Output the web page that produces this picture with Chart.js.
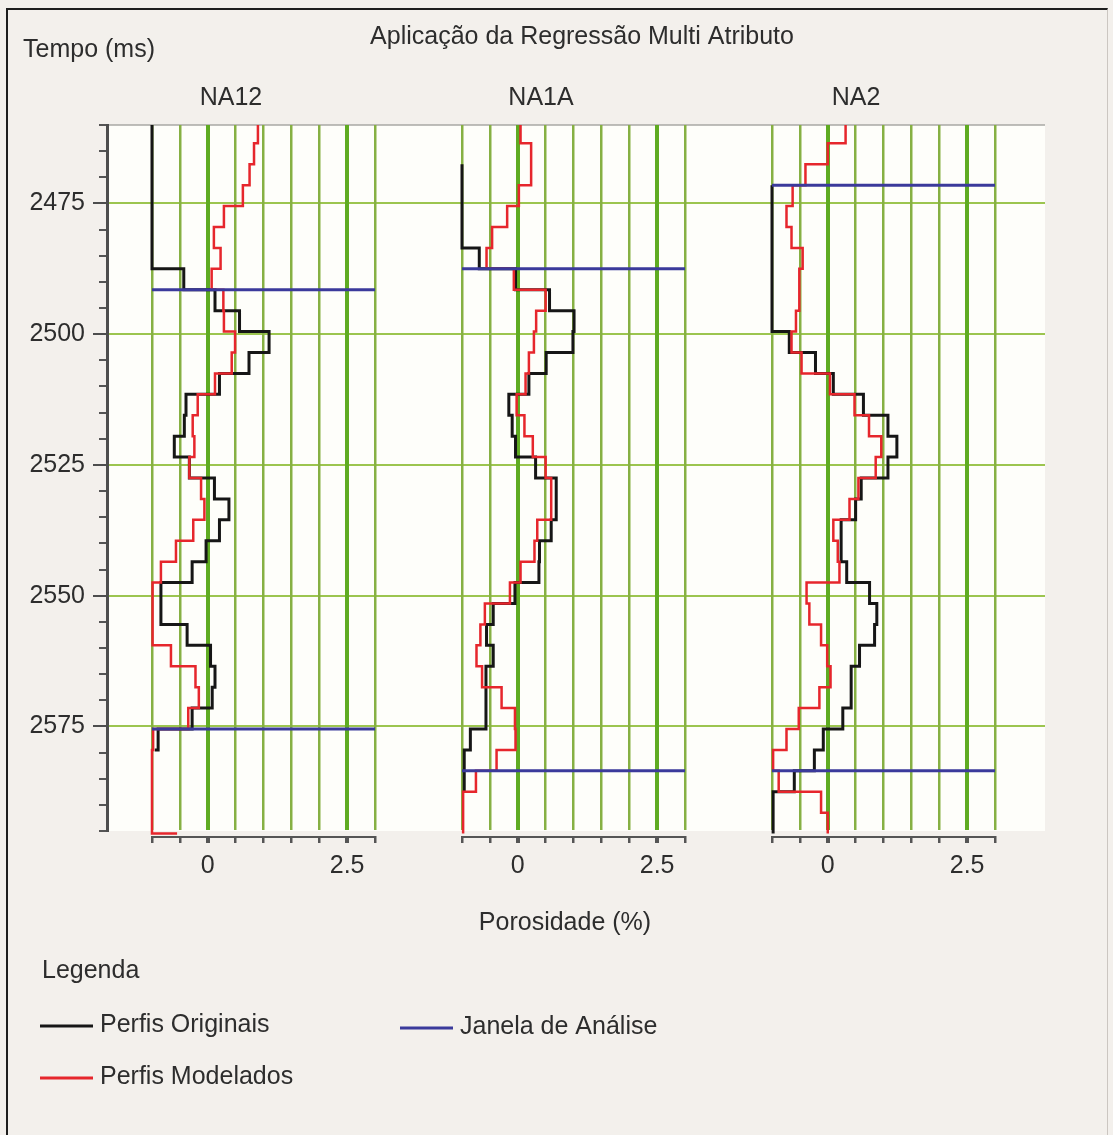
<!DOCTYPE html>
<html lang="pt">
<head>
<meta charset="utf-8">
<title>Aplicação da Regressão Multi Atributo</title>
<script src="https://cdn.jsdelivr.net/npm/chart.js@4.4.1/dist/chart.umd.min.js"></script>
<style>
  html, body { margin: 0; padding: 0; background: #f3f0ec; }
  body { width: 1113px; height: 1135px; position: relative; overflow: hidden; }
  #moldura {
    position: absolute; left: 6px; top: 8px; width: 1102px; height: 1140px;
    border-left: 2px solid #1e1e1e; border-top: 2px solid #1e1e1e; border-right: 1px solid #cbc6c1;
    box-sizing: border-box;
  }
  #grafico { position: absolute; left: 0; top: 0; }
</style>
</head>
<body>
<div id="moldura"></div>
<canvas id="grafico" width="1113" height="1135"></canvas>
<script>
// Início de cada amostra de 4 ms (o último valor fecha o intervalo final)
const tempo = [2459.5, 2463.5, 2467.5, 2471.5, 2475.5, 2479.5, 2483.5, 2487.5, 2491.5, 2495.5,
               2499.5, 2503.5, 2507.5, 2511.5, 2515.5, 2519.5, 2523.5, 2527.5, 2531.5, 2535.5,
               2539.5, 2543.5, 2547.5, 2551.5, 2555.5, 2559.5, 2563.5, 2567.5, 2571.5, 2575.5,
               2579.5, 2583.5, 2587.5, 2591.5, 2595.5];

// Poço NA12
const originalNA12 = [-1, -1, -1, -1, -1, -1, -1, -0.43, 0.13, 0.57,
                      1.10, 0.74, 0.21, -0.39, -0.42, -0.60, -0.33, 0.12, 0.38, 0.21,
                      -0.03, -0.28, -0.84, -0.84, -0.37, 0.05, 0.13, 0.08, -0.28, -0.89,
                      -0.95, null, null, null, null];
const modeladoNA12 = [0.90, 0.83, 0.75, 0.63, 0.29, 0.11, 0.23, 0.07, 0.28, 0.29,
                      0.49, 0.43, 0.13, -0.18, -0.27, -0.24, -0.33, -0.12, -0.06, -0.26,
                      -0.57, -0.84, -0.99, -0.99, -0.99, -0.66, -0.22, -0.16, -0.35, -0.98,
                      -1, -1, -1, -1, -0.55];
const janelaNA12 = [2491.5, 2575.5];

// Poço NA1A
const originalNA1A = [null, null, -1, -1, -1, -1, -0.69, -0.04, 0.57, 1.01,
                      0.99, 0.51, 0.20, -0.16, -0.10, -0.04, 0.32, 0.69, 0.69, 0.60,
                      0.39, 0.38, -0.05, -0.44, -0.56, -0.44, -0.57, -0.57, -0.57, -0.85,
                      -0.96, -0.96, -0.96, null, null];
const modeladoNA1A = [0.05, 0.24, 0.24, 0.02, -0.19, -0.46, -0.56, -0.07, 0.50, 0.33,
                      0.29, 0.20, 0.14, -0.02, 0.12, 0.27, 0.50, 0.60, 0.60, 0.35,
                      0.30, 0.05, -0.14, -0.59, -0.67, -0.74, -0.64, -0.29, -0.05, -0.04,
                      -0.38, -0.75, -0.98, -0.98, -0.98];
const janelaNA1A = [2487.5, 2583.5];

// Poço NA2
const originalNA2 = [null, null, null, -1, -1, -1, -1, -1, -1, -1,
                     -0.69, -0.22, 0.10, 0.64, 1.08, 1.24, 1.08, 0.60, 0.50, 0.24,
                     0.24, 0.34, 0.75, 0.88, 0.84, 0.57, 0.42, 0.42, 0.27, -0.08,
                     -0.24, -0.60, -0.98, -0.98, -0.98];
const modeladoNA2 = [0.32, 0.00, -0.40, -0.63, -0.74, -0.65, -0.45, -0.51, -0.51, -0.57,
                     -0.65, -0.47, 0.04, 0.48, 0.74, 0.96, 0.86, 0.55, 0.39, 0.10,
                     0.18, 0.21, -0.38, -0.33, -0.12, -0.01, 0.05, -0.15, -0.52, -0.74,
                     -0.98, -0.88, -0.12, 0.00, 0.00];
const janelaNA2 = [2471.5, 2583.5];

const pocos = ['NA12', 'NA1A', 'NA2'];
const limitesTempo = [2460, 2595];
const rotulosTempo = [2475, 2500, 2525, 2550, 2575];
const limitesPorosidade = [-1, 3];
const rotulosPorosidade = [0, 2.5];

const titulo = 'Aplicação da Regressão Multi Atributo';
const tituloTempo = 'Tempo (ms)';
const tituloPorosidade = 'Porosidade (%)';
const rotuloOriginal = 'Perfis Originais';
const rotuloModelado = 'Perfis Modelados';
const rotuloJanela = 'Janela de Análise';

const COR_ORIGINAL = '#161616';
const COR_MODELADO = '#e6262c';
const COR_JANELA = '#3b3a9b';
const FONTE = "'Liberation Sans', Arial, sans-serif";

Chart.defaults.font.family = FONTE;
Chart.defaults.font.size = 25;
Chart.defaults.color = '#2d2d2d';

const perfis = [
  { original: originalNA12, modelado: modeladoNA12, janela: janelaNA12 },
  { original: originalNA1A, modelado: modeladoNA1A, janela: janelaNA1A },
  { original: originalNA2, modelado: modeladoNA2, janela: janelaNA2 }
];

function serie(valores) {
  return tempo.map((t, k) => ({ x: valores[k], y: t }));
}

const datasets = [];
perfis.forEach((p, i) => {
  const eixo = 'x' + (i + 1);
  p.janela.forEach((t) => {
    datasets.push({
      label: rotuloJanela, xAxisID: eixo, order: 0,
      data: [{ x: limitesPorosidade[0], y: t }, { x: limitesPorosidade[1], y: t }],
      borderColor: COR_JANELA, borderWidth: 3
    });
  });
  datasets.push({
    label: rotuloModelado, xAxisID: eixo, order: 1,
    data: serie(p.modelado), stepped: 'after',
    borderColor: COR_MODELADO, borderWidth: 2.5
  });
  datasets.push({
    label: rotuloOriginal, xAxisID: eixo, order: 2,
    data: serie(p.original), stepped: 'after',
    borderColor: COR_ORIGINAL, borderWidth: 3
  });
});

// Eixos de porosidade: um por poço, lado a lado abaixo da área do gráfico
function eixoPorosidade(id) {
  return {
    type: 'linear', position: 'bottom',
    min: limitesPorosidade[0], max: limitesPorosidade[1],
    afterFit: (s) => { s.height = id === 'x1' ? 60 : 0; },
    ticks: {
      stepSize: 0.5, autoSkip: false, maxRotation: 0, padding: 8,
      color: '#2d2d2d',
      callback: (v) => rotulosPorosidade.includes(v) ? String(v) : ''
    },
    grid: {
      color: (c) => rotulosPorosidade.includes(c.tick.value) ? '#5fab22' : '#86b043',
      lineWidth: (c) => rotulosPorosidade.includes(c.tick.value) ? 4 : 2.5,
      tickColor: '#555',
      tickLength: 6
    },
    border: { display: true, color: '#555', width: 2 }
  };
}

// Posiciona cada eixo de poço sob a sua coluna e alinha os traços maiores do tempo
const arranjo = {
  id: 'arranjo',
  afterLayout(chart) {
    const area = chart.chartArea;
    pocos.forEach((_, i) => {
      const s = chart.scales['x' + (i + 1)];
      s.left = 152 + 310 * i;
      s.right = s.left + 223;
      s.width = s.right - s.left;
      s.top = area.bottom + 6;
      s.bottom = s.top + 60;
      s.height = 60;
      s.configure();
    });
    const y = chart.scales.y, y2 = chart.scales.y2;
    y2.left = y.left; y2.right = y.right; y2.width = y.width;
    y2.top = y.top; y2.bottom = y.bottom; y2.height = y.height;
    y2.configure();
  }
};

const fundo = {
  id: 'fundo',
  beforeDraw(chart) {
    const { ctx, chartArea: a } = chart;
    ctx.save();
    ctx.fillStyle = '#fefefa';
    ctx.fillRect(a.left, a.top, a.right - a.left, a.bottom - a.top);
    ctx.strokeStyle = '#a9a9a4';
    ctx.lineWidth = 1.5;
    ctx.beginPath();
    ctx.moveTo(a.left, a.top);
    ctx.lineTo(a.right, a.top);
    ctx.stroke();
    ctx.restore();
  }
};

const textos = {
  id: 'textos',
  afterDraw(chart) {
    const ctx = chart.ctx;
    ctx.save();
    ctx.fillStyle = '#2d2d2d';
    ctx.font = '25px ' + FONTE;
    ctx.textBaseline = 'middle';

    ctx.textAlign = 'center';
    ctx.fillText(titulo, 582, 37);
    const centros = [231, 541, 856];
    pocos.forEach((nome, i) => ctx.fillText(nome, centros[i], 98));
    ctx.fillText(tituloPorosidade, 565, 923);

    ctx.textAlign = 'left';
    ctx.fillText(tituloTempo, 23, 50);
    ctx.fillText('Legenda', 42, 971);

    const itens = [
      { rotulo: rotuloOriginal, cor: COR_ORIGINAL, x: 40, y: 1026 },
      { rotulo: rotuloModelado, cor: COR_MODELADO, x: 40, y: 1078 },
      { rotulo: rotuloJanela, cor: COR_JANELA, x: 400, y: 1028 }
    ];
    itens.forEach((it) => {
      ctx.strokeStyle = it.cor;
      ctx.lineWidth = 3;
      ctx.beginPath();
      ctx.moveTo(it.x, it.y);
      ctx.lineTo(it.x + 53, it.y);
      ctx.stroke();
      ctx.fillText(it.rotulo, it.x + 60, it.y - 1);
    });
    ctx.restore();
  }
};

new Chart(document.getElementById('grafico'), {
  type: 'scatter',
  data: { datasets },
  options: {
    responsive: false,
    animation: false,
    devicePixelRatio: 1,
    events: [],
    showLine: true,
    layout: { padding: { left: 0, top: 125, right: 68, bottom: 244 } },
    elements: {
      point: { radius: 0, hoverRadius: 0 },
      line: { tension: 0, borderJoinStyle: 'miter', borderCapStyle: 'butt', fill: false }
    },
    datasets: { scatter: { clip: { left: 4, right: 4, top: 0, bottom: 4 } } },
    plugins: { legend: { display: false }, tooltip: { enabled: false }, title: { display: false } },
    scales: {
      y: {
        type: 'linear', position: 'left', reverse: true,
        min: limitesTempo[0], max: limitesTempo[1],
        afterFit: (s) => { s.width = 107; },
        ticks: {
          stepSize: 5, autoSkip: false, padding: 14, color: '#2d2d2d',
          callback: (v) => rotulosTempo.includes(v) ? String(v) : ''
        },
        grid: {
          color: (c) => rotulosTempo.includes(c.tick.value) ? '#9cc54f' : 'rgba(0,0,0,0)',
          lineWidth: 2,
          tickColor: '#555',
          tickLength: 8
        },
        border: { display: true, color: '#4d4d4d', width: 3 }
      },
      y2: {
        type: 'linear', position: 'left', reverse: true,
        min: limitesTempo[0], max: limitesTempo[1],
        afterFit: (s) => { s.width = 0; },
        ticks: { stepSize: 25, autoSkip: false, includeBounds: false, callback: () => '' },
        grid: {
          drawOnChartArea: false,
          tickColor: (c) => rotulosTempo.includes(c.tick.value) ? '#4d4d4d' : 'rgba(0,0,0,0)',
          tickLength: 14,
          lineWidth: 2
        },
        border: { display: false }
      },
      x1: eixoPorosidade('x1'),
      x2: eixoPorosidade('x2'),
      x3: eixoPorosidade('x3')
    }
  },
  plugins: [fundo, arranjo, textos]
});
</script>
</body>
</html>
